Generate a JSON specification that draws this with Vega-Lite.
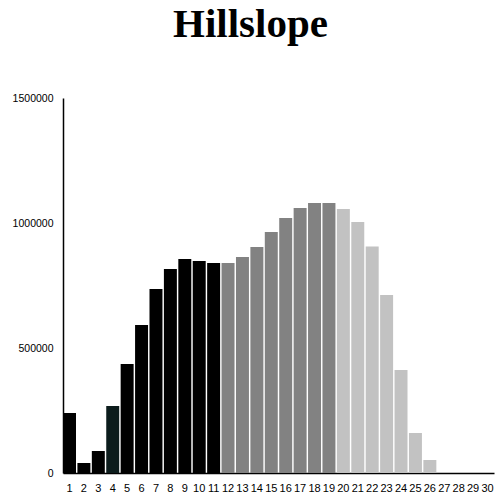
{
  "$schema": "https://vega.github.io/schema/vega-lite/v6.json",
  "autosize": "none",
  "width": 431,
  "height": 375,
  "padding": {"left": 63, "top": 98, "right": 1, "bottom": 27},
  "background": "white",
  "title": {
    "text": "Hillslope",
    "font": "Liberation Serif",
    "fontSize": 41,
    "fontWeight": "bold",
    "color": "black",
    "anchor": "middle",
    "frame": "group",
    "dx": -28,
    "baseline": "alphabetic",
    "offset": 15
  },
  "data": {
    "values": [
      {"x": 1, "v": 240000, "g": "a"},
      {"x": 2, "v": 40000, "g": "a"},
      {"x": 3, "v": 88000, "g": "a"},
      {"x": 4, "v": 268000, "g": "b"},
      {"x": 5, "v": 436000, "g": "a"},
      {"x": 6, "v": 592000, "g": "a"},
      {"x": 7, "v": 736000, "g": "a"},
      {"x": 8, "v": 816000, "g": "a"},
      {"x": 9, "v": 856000, "g": "a"},
      {"x": 10, "v": 848000, "g": "a"},
      {"x": 11, "v": 840000, "g": "a"},
      {"x": 12, "v": 840000, "g": "c"},
      {"x": 13, "v": 864000, "g": "c"},
      {"x": 14, "v": 904000, "g": "c"},
      {"x": 15, "v": 964000, "g": "c"},
      {"x": 16, "v": 1020000, "g": "c"},
      {"x": 17, "v": 1060000, "g": "c"},
      {"x": 18, "v": 1080000, "g": "c"},
      {"x": 19, "v": 1080000, "g": "c"},
      {"x": 20, "v": 1056000, "g": "d"},
      {"x": 21, "v": 1004000, "g": "d"},
      {"x": 22, "v": 906000, "g": "d"},
      {"x": 23, "v": 712000, "g": "d"},
      {"x": 24, "v": 412000, "g": "d"},
      {"x": 25, "v": 160000, "g": "d"},
      {"x": 26, "v": 52000, "g": "d"},
      {"x": 27, "v": 0, "g": "d"},
      {"x": 28, "v": 0, "g": "d"},
      {"x": 29, "v": 0, "g": "d"},
      {"x": 30, "v": 0, "g": "d"}
    ]
  },
  "mark": {"type": "bar"},
  "encoding": {
    "x": {
      "field": "x",
      "type": "ordinal",
      "scale": {"paddingInner": 0.1, "paddingOuter": 0},
      "axis": {
        "title": null,
        "labelAngle": 0,
        "ticks": false,
        "labelPadding": 9,
        "labelFont": "Liberation Sans",
        "labelFontSize": 11,
        "labelColor": "black",
        "labelOverlap": false,
        "domainColor": "black",
        "domainWidth": 1.5
      }
    },
    "y": {
      "field": "v",
      "type": "quantitative",
      "scale": {"domain": [0, 1500000], "nice": false},
      "axis": {
        "title": null,
        "values": [0, 500000, 1000000, 1500000],
        "format": "d",
        "grid": false,
        "ticks": false,
        "labelPadding": 10,
        "labelFont": "Liberation Sans",
        "labelFontSize": 10.5,
        "labelColor": "black",
        "domainColor": "black",
        "domainWidth": 1.5
      }
    },
    "color": {
      "field": "g",
      "type": "nominal",
      "scale": {"domain": ["a", "b", "c", "d"], "range": ["#000000", "#0c1c1c", "#828282", "#c2c2c2"]},
      "legend": null
    }
  },
  "config": {"view": {"stroke": null}}
}
